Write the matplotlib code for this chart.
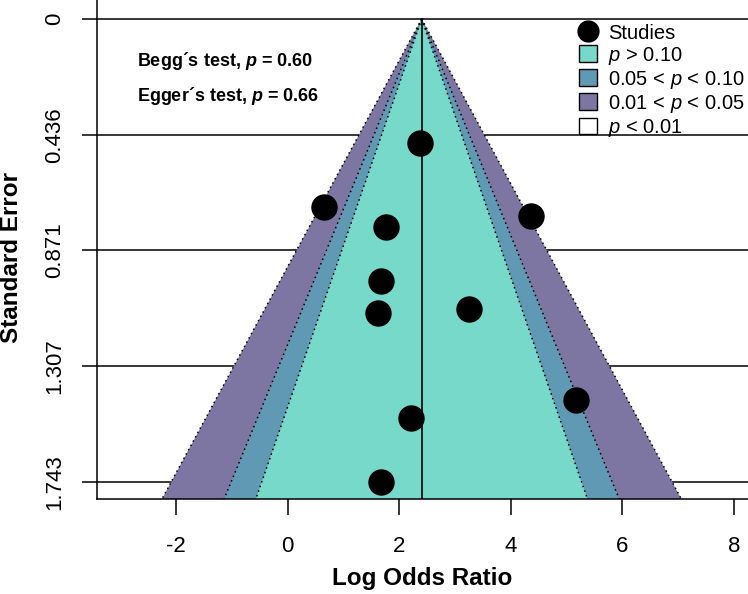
import numpy as np
import matplotlib.pyplot as plt
from matplotlib.lines import Line2D
from matplotlib.patches import Patch

plt.rcParams['font.family'] = ['Liberation Sans', 'DejaVu Sans']
plt.rcParams['axes.unicode_minus'] = False
plt.rcParams['mathtext.fontset'] = 'custom'
plt.rcParams['mathtext.it'] = 'Liberation Sans:italic'
plt.rcParams['mathtext.rm'] = 'Liberation Sans'
plt.rcParams['mathtext.bf'] = 'Liberation Sans:italic:bold'

# Studies (log odds ratio, standard error)
log_or = [2.37, 0.65, 4.36, 1.76, 1.67, 1.62, 3.25, 5.17, 2.21, 1.67]
se = [0.467, 0.708, 0.742, 0.783, 0.986, 1.107, 1.092, 1.434, 1.502, 1.743]

estimate = 2.40
se_ticks = [0, 0.436, 0.871, 1.307, 1.743]
se_ticklabels = ['0', '0.436', '0.871', '1.307', '1.743']
x_ticks = [-2, 0, 2, 4, 6, 8]

# contour levels (z) and colours
levels = [2.576, 1.96, 1.645]
colors = ['#7d76a3', '#6099b4', '#76d9c9']
legend_labels = ['$p$ > 0.10', '0.05 < $p$ < 0.10', '0.01 < $p$ < 0.05', '$p$ < 0.01']

se_bottom = 1.807
fig = plt.figure(figsize=(7.48, 5.94), dpi=100)
ax = fig.add_axes([97 / 748, 95 / 594, 1 - 97 / 748, 499 / 594])
ax.set_xlim(-3.42, 8.25)
ax.set_ylim(se_bottom, -0.0715)

# horizontal lines at the ticks
for t in se_ticks:
    ax.axhline(t, color='black', lw=1.1, zorder=1)

# contour regions
s = np.array([0, se_bottom])
for z, col in zip(levels, colors):
    xs = [estimate, estimate - z * se_bottom, estimate + z * se_bottom]
    ys = [0, se_bottom, se_bottom]
    ax.fill(xs, ys, color=col, lw=0, zorder=2)
for z in levels:
    ax.plot(estimate - z * s, s, color='black', ls=(0, (1, 2.2)), lw=1.1, zorder=3)
    ax.plot(estimate + z * s, s, color='black', ls=(0, (1, 2.2)), lw=1.1, zorder=3)

ax.plot([estimate, estimate], [0, se_bottom], color='black', lw=1.2, zorder=4)
ax.plot(log_or, se, 'o', color='black', markersize=18, zorder=5)

ax.spines['top'].set_visible(False)
ax.spines['right'].set_visible(False)
ax.spines['left'].set_linewidth(1.1)
ax.spines['bottom'].set_linewidth(1.1)

ax.set_yticks(se_ticks)
ax.set_yticklabels(se_ticklabels, rotation=90, va='center')
ax.set_xticks(x_ticks)
ax.tick_params(axis='x', length=11.5, width=1.1, pad=15, labelsize=16)
ax.tick_params(axis='y', length=11, width=1.1, pad=12, labelsize=16)

ax.set_xlabel('Log Odds Ratio', fontsize=17.5, fontweight='bold')
ax.set_ylabel('Standard Error', fontsize=17.5, fontweight='bold')
ax.xaxis.set_label_coords(0.5, -0.136)
ax.yaxis.set_label_coords(-0.113, 0.484)

ax.text(0.061, 0.878, 'Begg´s test, $\\mathbf{p}$ = 0.60', transform=ax.transAxes,
        fontsize=13, fontweight='bold', va='center')
ax.text(0.061, 0.808, 'Egger´s test, $\\mathbf{p}$ = 0.66', transform=ax.transAxes,
        fontsize=13, fontweight='bold', va='center')

handles = [Line2D([], [], marker='o', color='black', ls='none', markersize=15)]
handles += [Patch(facecolor=c, edgecolor='black', lw=1) for c in colors[::-1]]
handles.append(Patch(facecolor='white', edgecolor='black', lw=1))
ax.legend(handles, ['Studies'] + legend_labels, loc='upper left',
          bbox_to_anchor=(0.74, 0.953), frameon=False, fontsize=14.5,
          handlelength=0.9, handleheight=0.9, handletextpad=0.55,
          labelspacing=0.1, borderpad=0, borderaxespad=0)

fig.savefig('out.png', dpi=100)
